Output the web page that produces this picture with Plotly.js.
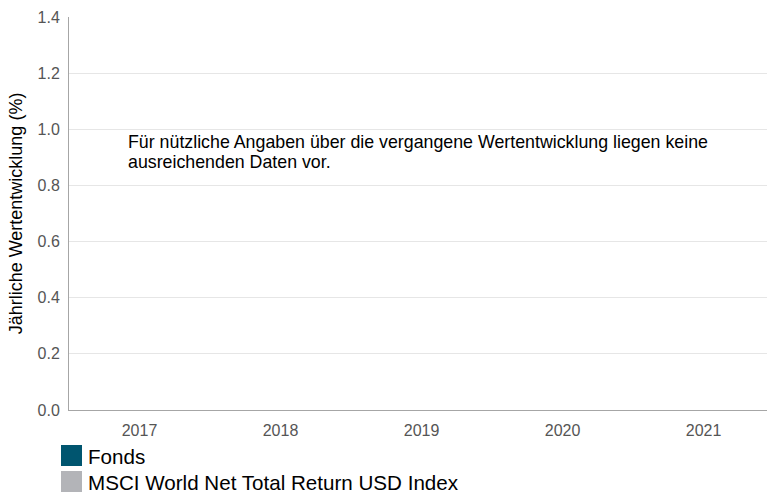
<!DOCTYPE html>
<html>
<head>
<meta charset="utf-8">
<script src="https://cdn.plot.ly/plotly-3.0.1.min.js"></script>
<style>html,body{margin:0;padding:0;background:#fff;}#chart{width:767px;height:493px;}</style>
</head>
<body>
<div id="chart"></div>
<script>
const years = ["2017", "2018", "2019", "2020", "2021"];
const fondsValues = [null, null, null, null, null];
const indexValues = [null, null, null, null, null];
const seriesNames = ["Fonds", "MSCI World Net Total Return USD Index"];
const seriesColors = ["#00556f", "#b3b4b8"];
const yTickValues = [0, 0.2, 0.4, 0.6, 0.8, 1.0, 1.2, 1.4];
const noDataLines = ["Für nützliche Angaben über die vergangene Wertentwicklung liegen keine", "ausreichenden Daten vor."];
const yTitle = "Jährliche Wertentwicklung (%)";

const font = "Liberation Sans, Arial, sans-serif";
const L = 69, T = 17, W = 767, H = 493, B = 83;
const plotH = H - T - B;
const plotW = W - L;

const traces = [
  {type: "bar", x: years, y: fondsValues, name: seriesNames[0], marker: {color: seriesColors[0]}, showlegend: false},
  {type: "bar", x: years, y: indexValues, name: seriesNames[1], marker: {color: seriesColors[1]}, showlegend: false}
];

function px2paperX(px) { return (px - L) / plotW; }
function px2paperY(py) { return (H - B - py) / plotH; }

const shapes = [];
const annotations = [{
  text: noDataLines.map(s => '<span style="font-size:17.8px">' + s + '</span>').join("<br>"),
  xref: "paper", yref: "paper",
  x: px2paperX(126), y: px2paperY(152), xanchor: "left", yanchor: "middle",
  align: "left", showarrow: false, font: {family: font, size: 15.6, color: "#000"}
}];
seriesNames.forEach((n, i) => {
  const top = 445 + i * 26;
  shapes.push({type: "rect", xref: "paper", yref: "paper",
    x0: px2paperX(61), x1: px2paperX(82), y0: px2paperY(top), y1: px2paperY(top + 21),
    fillcolor: seriesColors[i], line: {width: 0}});
  annotations.push({text: n, xref: "paper", yref: "paper",
    x: px2paperX(86), y: px2paperY(top + 11), xanchor: "left", yanchor: "middle",
    showarrow: false, font: {family: font, size: 20.6, color: "#000"}});
});

const layout = {
  width: W, height: H,
  margin: {l: L, r: 0, t: T, b: B, pad: 0},
  paper_bgcolor: "#fff", plot_bgcolor: "#fff",
  font: {family: font},
  showlegend: false,
  barmode: "group",
  xaxis: {
    type: "category", range: [-0.5, 4.45], fixedrange: true,
    showgrid: false, zeroline: false,
    showline: true, linecolor: "#a6a6a6", linewidth: 1,
    ticks: "", ticklabelstandoff: 6,
    tickfont: {family: font, size: 16, color: "#555"}
  },
  yaxis: {
    range: [0, 1.4], tickvals: yTickValues, tickformat: ".1f",
    showgrid: true, gridcolor: "#e6e6e6", gridwidth: 1,
    zeroline: false, showline: true, linecolor: "#a6a6a6", linewidth: 1,
    ticks: "", ticklabelstandoff: 5,
    tickfont: {family: font, size: 16, color: "#555"},
    title: {text: yTitle, font: {family: font, size: 18, color: "#000"}, standoff: 10}
  },
  shapes: shapes,
  annotations: annotations
};

Plotly.newPlot("chart", traces, layout, {displayModeBar: false, staticPlot: true});
</script>
</body>
</html>
